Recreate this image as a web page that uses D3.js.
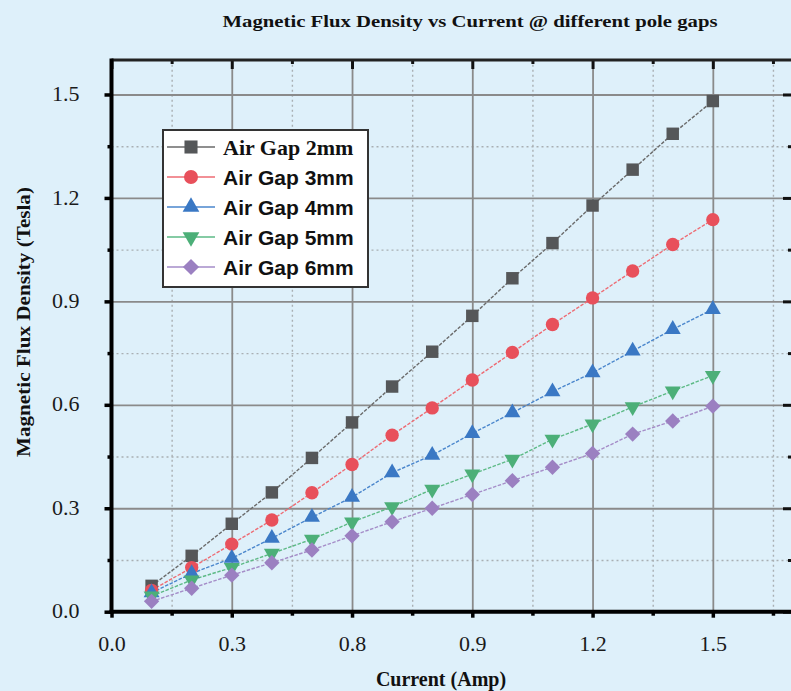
<!DOCTYPE html>
<html>
<head>
<meta charset="utf-8">
<script src="https://cdn.jsdelivr.net/npm/d3@7"></script>
<style>
  body { margin: 0; background: #def0fa; }
  text { fill: #111; }
  .serif { font-family: "Liberation Serif", "Times New Roman", serif; }
  .tick text { font-family: "Liberation Serif", serif; font-size: 22px; fill: #1a1a1a; }
</style>
</head>
<body>
<svg id="chart" width="791" height="691"></svg>
<script>
// ===== data =====
const current = [0.1, 0.2, 0.3, 0.4, 0.5, 0.6, 0.7, 0.8, 0.9, 1.0, 1.1, 1.2, 1.3, 1.4, 1.5];
const gap2mm = [0.075, 0.162, 0.255, 0.346, 0.446, 0.549, 0.653, 0.754, 0.858, 0.967, 1.069, 1.178, 1.282, 1.386, 1.481];
const gap3mm = [0.062, 0.128, 0.196, 0.266, 0.345, 0.427, 0.512, 0.591, 0.672, 0.752, 0.833, 0.910, 0.988, 1.065, 1.137];
const gap4mm = [0.055, 0.111, 0.155, 0.213, 0.274, 0.332, 0.403, 0.454, 0.517, 0.577, 0.638, 0.693, 0.756, 0.819, 0.877];
const gap5mm = [0.045, 0.092, 0.128, 0.169, 0.210, 0.260, 0.304, 0.355, 0.399, 0.442, 0.500, 0.544, 0.594, 0.640, 0.685];
const gap6mm = [0.030, 0.068, 0.106, 0.142, 0.179, 0.220, 0.261, 0.300, 0.340, 0.380, 0.419, 0.459, 0.515, 0.553, 0.596];
const seriesNames = ['Air Gap 2mm', 'Air Gap 3mm', 'Air Gap 4mm', 'Air Gap 5mm', 'Air Gap 6mm'];

const xMajor = [0, 0.3, 0.6, 0.9, 1.2, 1.5];
const xMajorLabels = ['0.0', '0.3', '0.8', '0.9', '1.2', '1.5'];
const xMinor = [0.15, 0.45, 0.75, 1.05, 1.35, 1.65];
const yMajor = [0, 0.3, 0.6, 0.9, 1.2, 1.5];
const yMajorLabels = ['0.0', '0.3', '0.6', '0.9', '1.2', '1.5'];
const yMinor = [0.15, 0.45, 0.75, 1.05, 1.35];

// ===== layout =====
const pL = 111.5, pR = 793, pT = 60, pB = 611.7;
const colors = ['#555759', '#e8505b', '#3a78c4', '#4caf78', '#9b80c1'];
const lineColors = ['#6a6a6a', '#ee6b73', '#4a86cc', '#5dba86', '#a58dc8'];
const symbols = [
  { type: d3.symbolSquare, size: 155, rot: 0 },
  { type: d3.symbolCircle, size: 140, rot: 0 },
  { type: d3.symbolTriangle, size: 110, rot: 0 },
  { type: d3.symbolTriangle, size: 110, rot: 180 },
  { type: d3.symbolSquare, size: 118, rot: 45 }
];

const svg = d3.select('#chart');
svg.append('rect').attr('width', 791).attr('height', 691).attr('fill', '#def0fa');

const x = d3.scaleLinear().domain([0, 1.7]).range([pL, pR]);
const y = d3.scaleLinear().domain([0, 1.6]).range([pB, pT]);

// Grid
function grid(axis, tr, dashed) {
  const g = svg.append('g').attr('transform', tr).call(axis);
  g.select('.domain').remove();
  g.selectAll('.tick line')
    .attr('stroke', dashed ? '#a9afb3' : '#8a8a8a')
    .attr('stroke-width', dashed ? 1.4 : 1.8)
    .attr('stroke-dasharray', dashed ? '2,3' : null);
  g.selectAll('.tick text').remove();
}
grid(d3.axisBottom(x).tickValues(xMinor).tickSize(-(pB - pT)), `translate(0,${pB})`, true);
grid(d3.axisLeft(y).tickValues(yMinor).tickSize(-(pR - pL)), `translate(${pL},0)`, true);
grid(d3.axisBottom(x).tickValues(xMajor.slice(1)).tickSize(-(pB - pT)), `translate(0,${pB})`, false);
grid(d3.axisLeft(y).tickValues(yMajor.slice(1)).tickSize(-(pR - pL)), `translate(${pL},0)`, false);

// Series
const allSeries = [gap2mm, gap3mm, gap4mm, gap5mm, gap6mm];
const line = d3.line().x(d => x(d[0])).y(d => y(d[1]));

allSeries.forEach((vals, i) => {
  const pts = current.map((c, k) => [c, vals[k]]);
  svg.append('path')
    .datum(pts)
    .attr('d', line)
    .attr('fill', 'none')
    .attr('stroke', lineColors[i])
    .attr('stroke-width', 1.4)
    .attr('stroke-dasharray', '3.5,1.5');
});
allSeries.forEach((vals, i) => {
  const s = symbols[i];
  svg.append('g').selectAll('path')
    .data(current.map((c, k) => [c, vals[k]]))
    .join('path')
      .attr('d', d3.symbol().type(s.type).size(s.size))
      .attr('transform', d => `translate(${x(d[0])},${y(d[1])}) rotate(${s.rot})`)
      .attr('fill', colors[i]);
});

// Axes
const axLeft = svg.append('g').attr('transform', `translate(${pL},0)`)
  .call(d3.axisLeft(y).tickValues(yMajor).tickFormat((d, i) => yMajorLabels[i]).tickSize(7).tickPadding(25));
const axLeftMinor = svg.append('g').attr('transform', `translate(${pL},0)`)
  .call(d3.axisLeft(y).tickValues(yMinor).tickFormat('').tickSize(4));
const axBottom = svg.append('g').attr('transform', `translate(0,${pB})`)
  .call(d3.axisBottom(x).tickValues(xMajor).tickFormat((d, i) => xMajorLabels[i]).tickSize(6).tickPadding(14));
const axBottomMinor = svg.append('g').attr('transform', `translate(0,${pB})`)
  .call(d3.axisBottom(x).tickValues(xMinor).tickFormat('').tickSize(4));
const axTop = svg.append('g').attr('transform', `translate(0,${pT})`)
  .call(d3.axisTop(x).tickValues(xMajor).tickFormat('').tickSize(-9));
const axTopMinor = svg.append('g').attr('transform', `translate(0,${pT})`)
  .call(d3.axisTop(x).tickValues(xMinor).tickFormat('').tickSize(-4));
const axRight = svg.append('g').attr('transform', `translate(${pR + 2},0)`)
  .call(d3.axisRight(y).tickValues(yMajor).tickFormat('').tickSize(-12));
const axRightMinor = svg.append('g').attr('transform', `translate(${pR + 2},0)`)
  .call(d3.axisRight(y).tickValues(yMinor).tickFormat('').tickSize(-7));

[axLeft, axLeftMinor, axBottom, axBottomMinor].forEach(g => {
  g.select('.domain').remove();
  g.selectAll('.tick line').attr('stroke', '#000').attr('stroke-width', 3.5);
});
[axTop, axTopMinor, axRight, axRightMinor].forEach(g => {
  g.select('.domain').remove();
  g.selectAll('.tick line').attr('stroke', '#111').attr('stroke-width', 3);
});
axLeft.selectAll('.tick text').attr('dy', '0.28em');
axBottom.selectAll('.tick text').attr('dy', '0.9em');

// frame lines (right edge sits just outside the picture)
svg.append('line').attr('x1', pL).attr('x2', pR + 4).attr('y1', pT).attr('y2', pT)
  .attr('stroke', '#222').attr('stroke-width', 3);
svg.append('line').attr('x1', pR + 3).attr('x2', pR + 3).attr('y1', pT).attr('y2', pB)
  .attr('stroke', '#222').attr('stroke-width', 3);
svg.append('line').attr('x1', pL).attr('x2', pL).attr('y1', pT - 1.5).attr('y2', pB + 2)
  .attr('stroke', '#000').attr('stroke-width', 4);
svg.append('line').attr('x1', pL - 2).attr('x2', pR + 4).attr('y1', pB).attr('y2', pB)
  .attr('stroke', '#000').attr('stroke-width', 4);

// Titles
svg.append('text').attr('class', 'serif')
  .attr('x', 470).attr('y', 27)
  .attr('text-anchor', 'middle')
  .attr('font-size', 17).attr('font-weight', 'bold')
  .attr('textLength', 495).attr('lengthAdjust', 'spacingAndGlyphs')
  .text('Magnetic Flux Density vs Current @ different pole gaps');

svg.append('text').attr('class', 'serif')
  .attr('x', 441).attr('y', 686)
  .attr('text-anchor', 'middle')
  .attr('font-size', 20).attr('font-weight', 'bold')
  .text('Current (Amp)');

svg.append('text').attr('class', 'serif')
  .attr('transform', 'translate(30,322) rotate(-90)')
  .attr('text-anchor', 'middle')
  .attr('font-size', 19).attr('font-weight', 'bold')
  .attr('textLength', 270).attr('lengthAdjust', 'spacingAndGlyphs')
  .text('Magnetic Flux Density (Tesla)');

// Legend
const legend = svg.append('g');
legend.append('rect')
  .attr('x', 163).attr('y', 130).attr('width', 205).attr('height', 157)
  .attr('fill', '#ffffff').attr('stroke', '#333').attr('stroke-width', 2);

seriesNames.forEach((name, i) => {
  const cy = 147 + i * 30;
  const s = symbols[i];
  const row = legend.append('g');
  row.append('line').attr('x1', 167).attr('x2', 215).attr('y1', cy).attr('y2', cy)
    .attr('stroke', lineColors[i]).attr('stroke-width', 1.6);
  row.append('path')
    .attr('d', d3.symbol().type(s.type).size(s.size * 1.1))
    .attr('transform', `translate(191,${cy}) rotate(${s.rot})`)
    .attr('fill', colors[i]);
  row.append('text')
    .attr('x', 223).attr('y', cy + 8)
    .attr('font-family', i === 0 ? '"Liberation Serif", serif' : '"Liberation Sans", Arial, sans-serif')
    .attr('font-size', i === 0 ? 22 : 21)
    .attr('font-weight', 'bold')
    .text(name);
});
</script>
</body>
</html>
